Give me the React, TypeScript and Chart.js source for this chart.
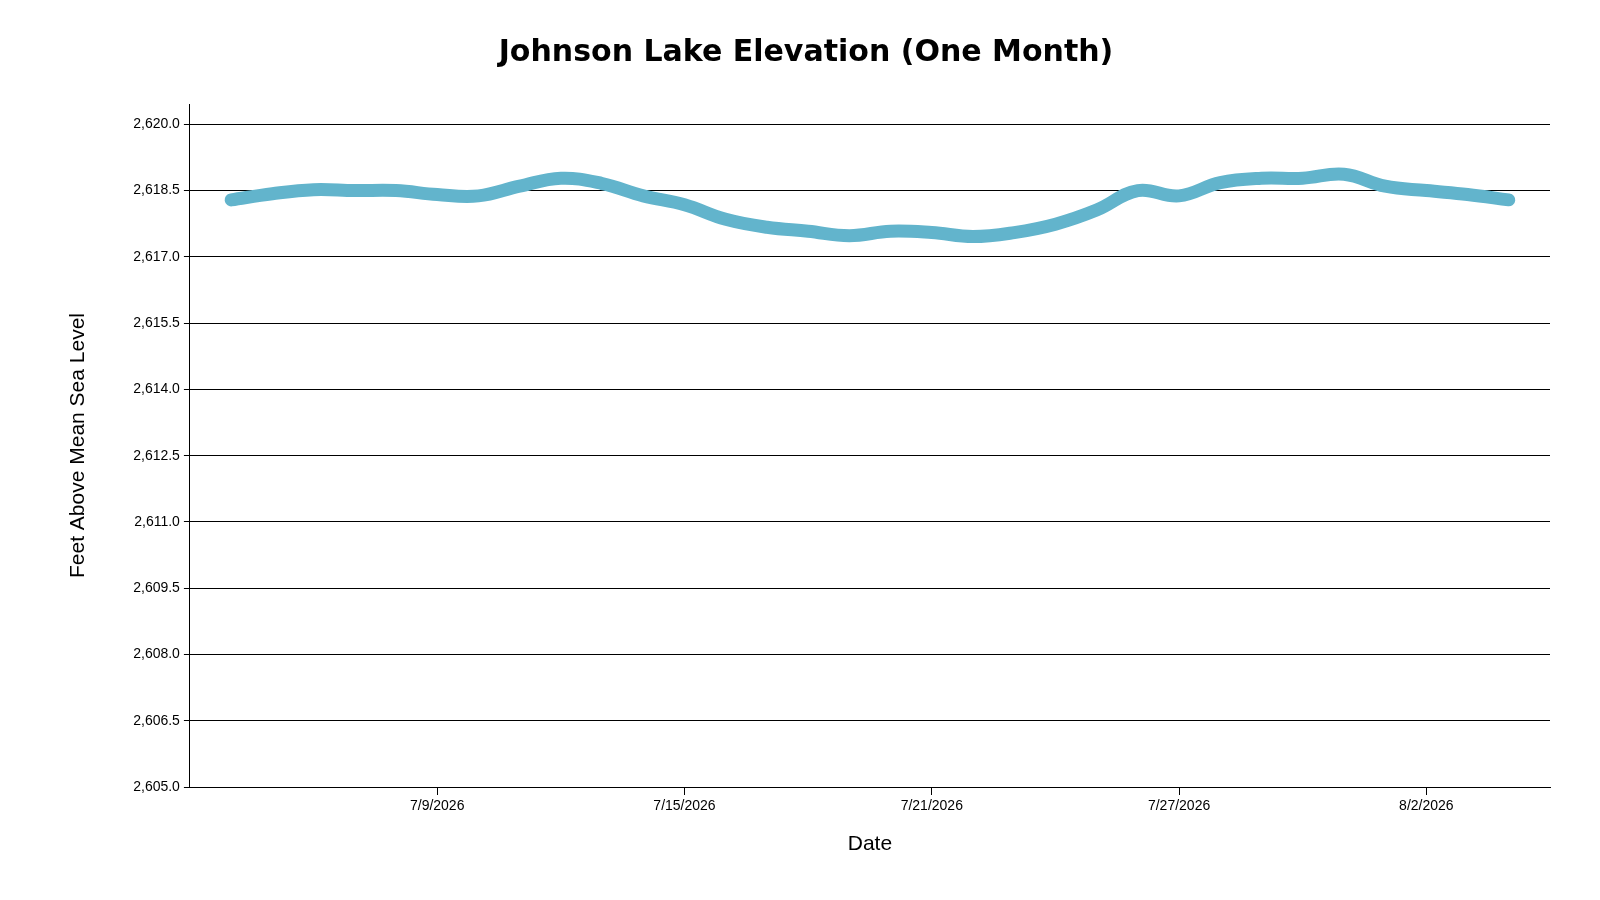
import React, { useEffect, useRef } from "react";
import { Chart, registerables } from "chart.js";
Chart.register(...registerables);

const startDay = 1; // day index of 7/4 (axis starts 7/3 = 0)
const dates = ["7/4","7/5","7/6","7/7","7/8","7/9","7/10","7/11","7/12","7/13","7/14","7/15","7/16","7/17","7/18","7/19","7/20","7/21","7/22","7/23","7/24","7/25","7/26","7/27","7/28","7/29","7/30","7/31","8/1","8/2","8/3","8/4"];
const elevations = [2618.29,2618.43,2618.52,2618.5,2618.5,2618.41,2618.38,2618.6,2618.78,2618.66,2618.38,2618.18,2617.85,2617.67,2617.58,2617.48,2617.58,2617.55,2617.46,2617.55,2617.74,2618.06,2618.5,2618.38,2618.68,2618.78,2618.78,2618.87,2618.6,2618.5,2618.41,2618.29];
const xTickLabels: Record<number, string> = { 6: "7/9/2026", 12: "7/15/2026", 18: "7/21/2026", 24: "7/27/2026", 30: "8/2/2026" };

export default function App() {
  const ref = useRef<HTMLCanvasElement>(null);
  useEffect(() => {
    const font = "'Liberation Sans', Arial, sans-serif";
    const chart = new Chart(ref.current!, {
      type: "line",
      data: {
        datasets: [{
          data: elevations.map((v, i) => ({ x: startDay + i, y: v })),
          borderColor: "#62b4cc",
          borderWidth: 13,
          pointRadius: 0,
          tension: 0.4,
          borderCapStyle: "round",
          borderJoinStyle: "round",
        }],
      },
      options: {
        animation: false,
        responsive: false,
        layout: { padding: { left: 62, right: 50, top: 10, bottom: 39 } },
        plugins: {
          legend: { display: false },
          tooltip: { enabled: false },
          title: {
            display: true,
            text: "Johnson Lake Elevation (One Month)",
            color: "#000",
            font: { family: "'Arial Black', 'DejaVu Sans', sans-serif", size: 30, weight: "bold" },
            padding: { top: 25, bottom: 33 },
          },
        },
        scales: {
          x: {
            type: "linear",
            min: 0,
            max: 33,
            afterBuildTicks: (s: any) => { s.ticks = Object.keys(xTickLabels).map((k) => ({ value: Number(k) })); },
            ticks: { callback: (v: any) => xTickLabels[v] ?? "", color: "#000", font: { family: font, size: 14 }, maxRotation: 0 },
            grid: { drawOnChartArea: false, color: "#000", tickLength: 8 },
            border: { color: "#000" },
            title: { display: true, text: "Date", color: "#000", font: { family: font, size: 21 }, padding: { top: 14 } },
          },
          y: {
            min: 2605,
            max: 2620.46,
            afterBuildTicks: (s: any) => { const t = []; for (let v = 2605; v <= 2620.001; v += 1.5) t.push({ value: v }); s.ticks = t; },
            ticks: {
              callback: (v: any) => Number(v).toLocaleString("en-US", { minimumFractionDigits: 1, maximumFractionDigits: 1 }),
              color: "#000", font: { family: font, size: 14 }, padding: 4,
            },
            grid: { color: "#000", tickLength: 6 },
            border: { color: "#000" },
            title: { display: true, text: "Feet Above Mean Sea Level", color: "#000", font: { family: font, size: 21 }, padding: { bottom: 38 } },
          },
        },
      },
    } as any);
    return () => chart.destroy();
  }, []);
  return (
    <div style={{ position: "fixed", left: 0, top: 0, width: 1600, height: 900, background: "#fff" }}>
      <canvas ref={ref} width={1600} height={900} style={{ width: 1600, height: 900 }} />
    </div>
  );
}
